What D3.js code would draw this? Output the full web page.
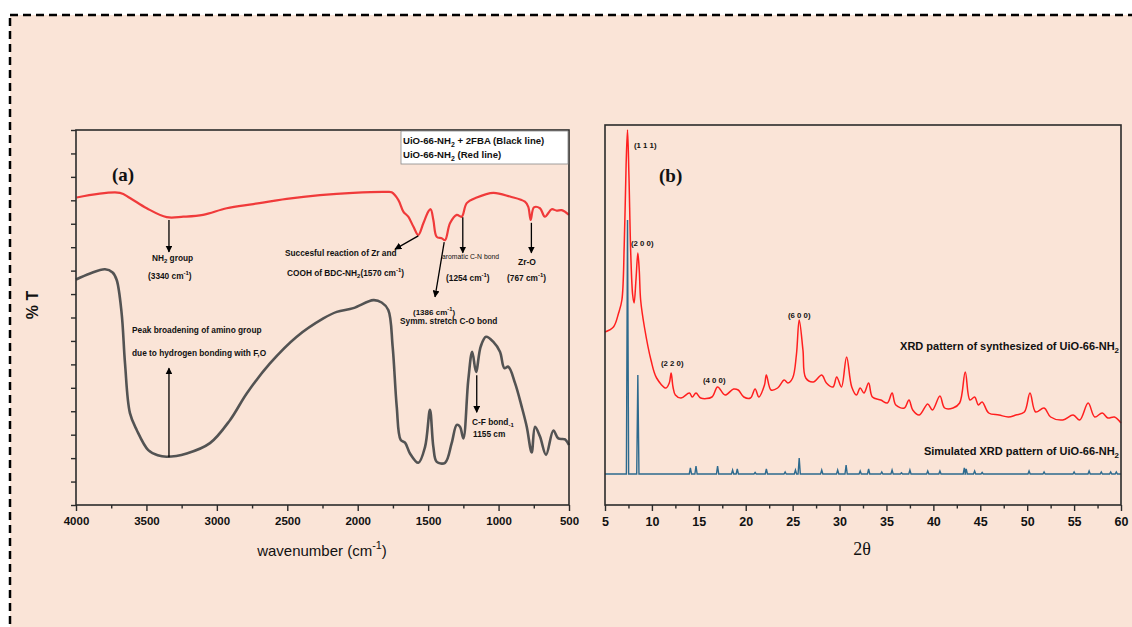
<!DOCTYPE html>
<html>
<head>
<meta charset="utf-8">
<title>FTIR and XRD of UiO-66-NH2</title>
<script src="https://d3js.org/d3.v7.min.js"></script>
<style>
  body { margin: 0; background: #fff; }
  svg text { font-family: "Liberation Sans", Arial, sans-serif; fill: #111; }
  svg text.serif { font-family: "Liberation Serif", "Times New Roman", serif; }
</style>
</head>
<body>
<svg id="fig" width="1132" height="627"></svg>
<script>
// ---- data ----
// FTIR, wavenumber (cm-1) vs %T (arbitrary offset)
const ftirRed = [
  [3995,65.6],[3688,66.6],[3617,65.5],[3498,63.3],[3356,61.4],[3238,61.5],[3098,61.9],
  [2930,63.3],[2741,64.2],[2504,65.3],[2268,66.1],[2033,66.6],[1794,66.8],[1759,66.7],
  [1712,65.1],[1676,62.6],[1641,61.5],[1605,59.4],[1570,57.6],[1534,60.1],[1499,62.6],
  [1482,63.1],[1463,60.8],[1439,57.2],[1404,56.9],[1380,56.5],[1345,60.1],[1297,61.9],
  [1262,61.5],[1226,64.4],[1155,65.6],[1037,66.6],[919,65.8],[813,64.7],[789,63.6],
  [772,60.8],[749,63.5],[706,63.3],[671,61.5],[623,63.1],[588,62.8],[552,62.9],[500,61.9]
];
const ftirBlack = [
  [4000,48.1],[3900,49.4],[3794,50.3],[3740,49.6],[3711,48.0],[3676,40.9],[3652,30.2],
  [3617,19.6],[3569,16.0],[3487,11.7],[3420,10.6],[3356,10.3],[3214,11.0],[3049,13.2],
  [2907,18.1],[2788,23.8],[2623,30.2],[2433,35.9],[2244,39.8],[2149,41.2],[2031,42.0],
  [1889,43.7],[1830,43.2],[1783,41.6],[1752,33.8],[1723,21.0],[1695,13.9],[1664,13.3],
  [1629,11.0],[1570,9.0],[1522,12.4],[1487,20.3],[1463,12.4],[1439,9.2],[1380,9.0],
  [1333,13.2],[1297,17.1],[1274,16.7],[1250,14.2],[1215,26.7],[1187,32.7],[1160,28.4],
  [1127,33.8],[1089,35.9],[1037,34.8],[990,32.7],[959,29.2],[931,29.5],[883,26.0],
  [836,21.0],[800,16.7],[765,11.2],[741,16.7],[706,14.6],[663,10.7],[611,15.9],
  [576,14.2],[528,14.0],[500,12.8]
];
const ftirTicks = [4000,3500,3000,2500,2000,1500,1000,500];
const ftirMinor = [3750,3250,2750,2250,1750,1250,750];

// XRD, 2theta (deg) vs intensity (a.u.)
const xrdMeasured = [
  [5.0,173],[5.9,178],[6.45,192],[6.8,205],[7.05,260],[7.25,340],[7.4,375],[7.55,330],
  [7.75,250],[7.95,210],[8.1,202],[8.3,225],[8.5,252],[8.65,235],[8.8,205],[9.2,178],
  [9.9,145],[10.5,127],[11.5,117],[11.85,122],[12.05,132],[12.25,118],[12.5,110],
  [13.1,107],[14.0,112],[14.3,108],[14.7,112],[15.2,107],[16.4,108],[17.0,118],
  [17.8,110],[18.7,116],[19.2,115],[19.8,108],[20.5,107],[21.0,116],[21.4,108],
  [22.0,120],[22.2,130],[22.7,115],[23.4,117],[24.1,125],[24.5,122],[25.0,127],
  [25.4,150],[25.7,185],[26.1,155],[26.4,127],[27.2,123],[28.1,130],[28.6,122],
  [29.3,118],[29.7,128],[30.2,118],[30.75,148],[31.3,118],[31.8,110],[32.2,117],
  [32.6,112],[33.1,122],[33.5,108],[34.4,105],[35.1,102],[35.6,112],[36.0,100],
  [36.9,97],[37.4,105],[37.8,95],[38.5,90],[39.4,101],[39.9,95],[40.7,109],[41.2,97],
  [42.1,97],[42.8,102],[43.4,133],[43.9,105],[44.4,108],[44.8,100],[45.2,103],
  [45.9,92],[47.0,90],[48.0,88],[48.8,90],[49.7,93],[50.3,112],[50.9,93],[51.8,97],
  [52.5,88],[53.8,85],[54.9,90],[55.6,85],[56.5,102],[57.2,88],[58.0,92],[58.6,87],
  [59.3,88],[60.0,82]
];
const simBase = 31;
const simPeaks = [
  [7.4,285],[8.5,130],[14.1,37],[14.7,39],[17.0,39],[18.6,35],[19.1,36],[21.0,32.5],
  [22.2,36],[24.2,33],[25.3,35],[25.7,47],[28.1,35],[29.8,35],[30.7,40],[32.2,34],
  [33.1,36],[34.5,33],[35.6,35],[36.6,32.3],[37.5,35],[39.4,34],[40.7,34],[43.3,37],
  [43.5,36],[44.4,34],[45.2,32.5],[50.2,34],[51.8,33],[55.0,33],[56.6,34],[57.9,33],
  [58.9,33],[59.5,33]
];
const xrdTicks = [5,10,15,20,25,30,35,40,45,50,55,60];
const xrdMinor = [7.5,12.5,17.5,22.5,27.5,32.5,37.5,42.5,47.5,52.5,57.5];

const svg = d3.select("#fig");

// backdrop + dashed border
svg.append("rect").attr("x", 10).attr("y", 15).attr("width", 1140).attr("height", 640)
  .attr("fill", "#fae4d7").attr("stroke", "#000").attr("stroke-width", 2.5)
  .attr("stroke-dasharray", "8,5");

svg.append("defs").append("marker")
  .attr("id", "arr").attr("viewBox", "0 0 10 10").attr("refX", 9).attr("refY", 5)
  .attr("markerWidth", 7).attr("markerHeight", 7).attr("markerUnits", "userSpaceOnUse")
  .attr("orient", "auto")
  .append("path").attr("d", "M0,0 L10,5 L0,10 z").attr("fill", "#000");

// text with sub/superscripts: parts = [[str, "sub"|"sup"|undefined], ...]
function rich(g, x, y, parts, size, opts = {}) {
  const t = g.append("text").attr("x", x).attr("y", y)
    .attr("font-size", size).attr("font-weight", opts.weight || "bold")
    .attr("text-anchor", opts.anchor || "start");
  let shift = 0;
  parts.forEach(([s, kind]) => {
    const target = kind === "sub" ? size * 0.3 : kind === "sup" ? -size * 0.45 : 0;
    t.append("tspan").attr("dy", target - shift)
      .attr("font-size", kind ? size * 0.72 : size).text(s);
    shift = target;
  });
  return t;
}

// ================= panel (a) FTIR =================
const xA = d3.scaleLinear().domain([4000, 500]).range([76, 569]);
const yA = d3.scaleLinear().domain([0, 80]).range([505, 130]);
const gA = svg.append("g");

const lineA = d3.line().x(d => xA(d[0])).y(d => yA(d[1])).curve(d3.curveCatmullRom.alpha(0.5));
gA.append("path").datum(ftirBlack).attr("d", lineA)
  .attr("fill", "none").attr("stroke", "#535353").attr("stroke-width", 2.6);
gA.append("path").datum(ftirRed).attr("d", lineA)
  .attr("fill", "none").attr("stroke", "#f03a3a").attr("stroke-width", 2.2);

gA.append("rect").attr("x", 76).attr("y", 130).attr("width", 493).attr("height", 375)
  .attr("fill", "none").attr("stroke", "#2b2b2b").attr("stroke-width", 1.6);

const axA = gA.append("g").attr("transform", "translate(0,505)")
  .call(d3.axisBottom(xA).tickValues(ftirTicks).tickSize(6).tickPadding(6).tickFormat(d3.format("d")));
axA.select(".domain").remove();
axA.selectAll("text").attr("font-size", 11.5).attr("font-weight", "bold");
axA.selectAll("line").attr("stroke", "#2b2b2b").attr("stroke-width", 1.4);
gA.append("g").attr("transform", "translate(0,505)")
  .call(d3.axisBottom(xA).tickValues(ftirMinor).tickSize(3.5).tickFormat(""))
  .call(g => g.select(".domain").remove())
  .selectAll("line").attr("stroke", "#2b2b2b").attr("stroke-width", 1.4);
gA.append("g").attr("transform", "translate(76,0)")
  .call(d3.axisLeft(yA).ticks(16).tickSize(5).tickFormat(""))
  .call(g => g.select(".domain").remove())
  .selectAll("line").attr("stroke", "#2b2b2b").attr("stroke-width", 1.4);

rich(gA, 0, 0, [["wavenumber (cm"], ["-1", "sup"], [")"]], 15, { weight: "normal", anchor: "middle" })
  .attr("transform", "translate(322,556)");
gA.append("text").attr("transform", "translate(38,305) rotate(-90)")
  .attr("text-anchor", "middle").attr("font-size", 16).attr("font-weight", "bold").text("% T");
gA.append("text").attr("class", "serif").attr("x", 112).attr("y", 181)
  .attr("font-size", 19).attr("font-weight", "bold").text("(a)");

// legend box
gA.append("rect").attr("x", 401).attr("y", 131).attr("width", 167).attr("height", 33)
  .attr("fill", "#fff").attr("stroke", "#888").attr("stroke-width", 0.8);
rich(gA, 403, 144, [["UiO-66-NH"], ["2", "sub"], [" + 2FBA (Black line)"]], 9.6);
rich(gA, 403, 158, [["UiO-66-NH"], ["2", "sub"], [" (Red line)"]], 9.6);

// arrows (wavenumber, %T)
const arrowsA = [
  [[3340, 60.8], [3340, 54.0]],
  [[1570, 57.4], [1735, 54.6]],
  [[1386, 56.1], [1451, 44.4]],
  [[1254, 61.4], [1254, 53.8]],
  [[767, 60.2], [767, 53.8]],
  [[3340, 10.2], [3340, 29.2]],
  [[1155, 27.7], [1155, 19.8]]
];
arrowsA.forEach(([a, b]) => {
  gA.append("line").attr("x1", xA(a[0])).attr("y1", yA(a[1]))
    .attr("x2", xA(b[0])).attr("y2", yA(b[1]))
    .attr("stroke", "#000").attr("stroke-width", 1.3).attr("marker-end", "url(#arr)");
});

rich(gA, 152, 261, [["NH"], ["2", "sub"], [" group"]], 8.3);
rich(gA, 148, 279, [["(3340 cm"], ["-1", "sup"], [")"]], 8.3);
rich(gA, 285, 256, [["Succesful reaction of Zr and"]], 8.3);
rich(gA, 287, 276, [["COOH of BDC-NH"], ["2", "sub"], ["(1570 cm"], ["-1", "sup"], [")"]], 8.3);
rich(gA, 442, 259, [["aromatic C-N bond"]], 6.8).attr("font-weight", "normal");
rich(gA, 446, 281, [["(1254 cm"], ["-1", "sup"], [")"]], 8.3);
rich(gA, 518, 265, [["Zr-O"]], 8.5);
rich(gA, 507, 281, [["(767 cm"], ["-1", "sup"], [")"]], 8.3);
rich(gA, 413, 315, [["(1386 cm"], ["-1", "sup"], [")"]], 8);
rich(gA, 400, 324, [["Symm. stretch C-O bond"]], 8.3);
rich(gA, 132, 333, [["Peak broadening of amino group"]], 8.3);
rich(gA, 132, 356, [["due to hydrogen bonding with F,O"]], 8.3);
rich(gA, 472, 425, [["C-F bond"], ["-1", "sub"]], 8.3);
rich(gA, 473, 437, [["1155 cm"]], 8.3);

// ================= panel (b) XRD =================
const xB = d3.scaleLinear().domain([5, 60]).range([605, 1121]);
const yB = d3.scaleLinear().domain([0, 380]).range([505, 125]);
const gB = svg.append("g");

const simPts = [[5, simBase]];
simPeaks.forEach(([t, h]) => { simPts.push([t - 0.12, simBase], [t, h], [t + 0.12, simBase]); });
simPts.push([60, simBase]);
const lineB = d3.line().x(d => xB(d[0])).y(d => yB(d[1]));
gB.append("path").datum(simPts).attr("d", lineB)
  .attr("fill", "none").attr("stroke", "#2d6a8e").attr("stroke-width", 1.4);
gB.append("path").datum(xrdMeasured)
  .attr("d", d3.line().x(d => xB(d[0])).y(d => yB(d[1])).curve(d3.curveCatmullRom.alpha(0.5)))
  .attr("fill", "none").attr("stroke", "#ff1f1f").attr("stroke-width", 1.5);

gB.append("rect").attr("x", 605).attr("y", 125).attr("width", 516).attr("height", 380)
  .attr("fill", "none").attr("stroke", "#2b2b2b").attr("stroke-width", 1.6);

const axB = gB.append("g").attr("transform", "translate(0,505)")
  .call(d3.axisBottom(xB).tickValues(xrdTicks).tickSize(6).tickPadding(6));
axB.select(".domain").remove();
axB.selectAll("text").attr("font-size", 12.5).attr("font-weight", "bold");
axB.selectAll("line").attr("stroke", "#2b2b2b").attr("stroke-width", 1.4);
gB.append("g").attr("transform", "translate(0,505)")
  .call(d3.axisBottom(xB).tickValues(xrdMinor).tickSize(3.5).tickFormat(""))
  .call(g => g.select(".domain").remove())
  .selectAll("line").attr("stroke", "#2b2b2b").attr("stroke-width", 1.4);

gB.append("text").attr("class", "serif").attr("x", 862).attr("y", 555).attr("text-anchor", "middle")
  .attr("font-size", 18).text("2θ");
gB.append("text").attr("class", "serif").attr("x", 659).attr("y", 182)
  .attr("font-size", 19).attr("font-weight", "bold").text("(b)");

const hkl = [["(1 1 1)", 634, 148], ["(2 0 0)", 631, 246], ["(2 2 0)", 661, 366],
             ["(4 0 0)", 703, 383], ["(6 0 0)", 788, 318]];
hkl.forEach(([s, x, y]) => rich(gB, x, y, [[s]], 7.8));

rich(gB, 1119, 350, [["XRD pattern of synthesized of UiO-66-NH"], ["2", "sub"]], 11, { anchor: "end" });
rich(gB, 1119, 455, [["Simulated XRD pattern of UiO-66-NH"], ["2", "sub"]], 11, { anchor: "end" });
</script>
</body>
</html>
